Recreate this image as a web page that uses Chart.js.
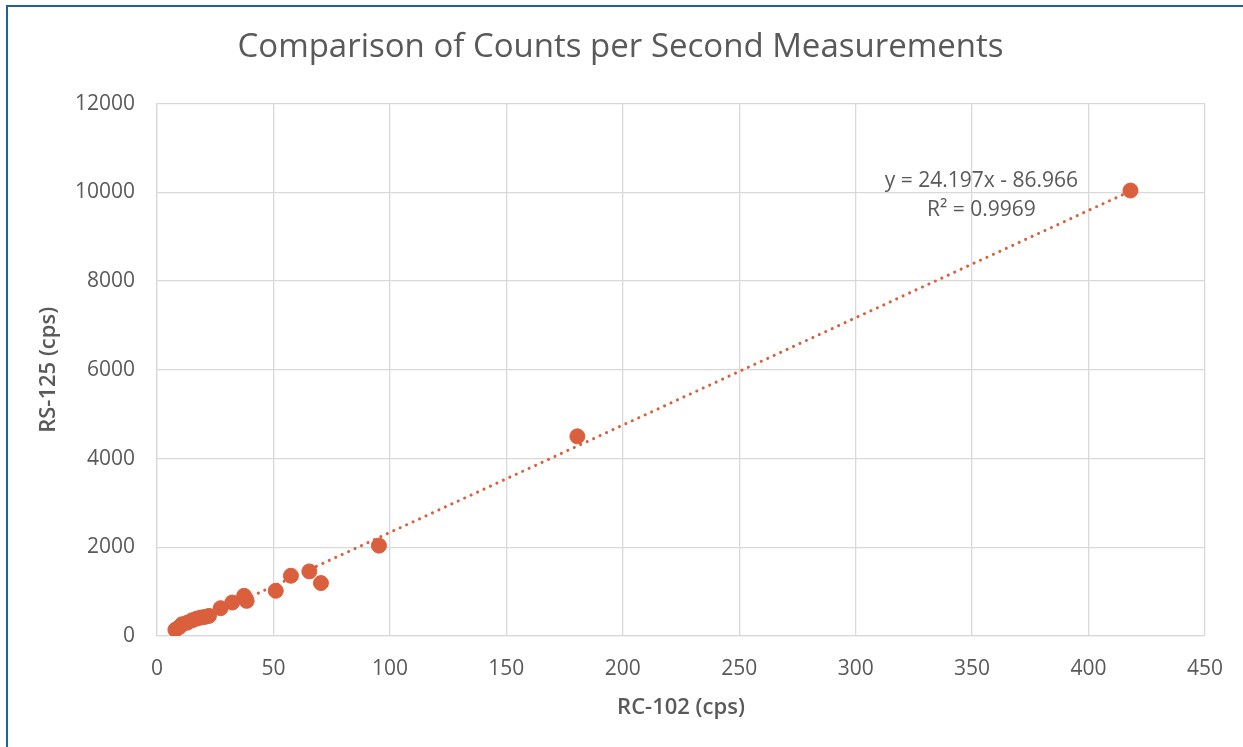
<!DOCTYPE html>
<html>
<head>
<meta charset="utf-8">
<script src="https://cdn.jsdelivr.net/npm/chart.js@4.4.1/dist/chart.umd.min.js"></script>
<style>
  html, body { margin: 0; padding: 0; background: #fff; }
  #frame {
    position: absolute; left: 6px; top: 5px; width: 1237px; height: 742px;
    border-left: 2px solid #1f6391; border-top: 2px solid #1f6391;
    box-sizing: border-box;
  }
  #wrap { position: absolute; left: 0; top: 0; width: 1243px; height: 747px; }
</style>
</head>
<body>
<div id="frame"></div>
<div id="wrap"><canvas id="cpsChart"></canvas></div>
<script>
const rc102 = [7.9, 9.5, 10.8, 13, 15.1, 17, 18.7, 20.5, 22.3, 27.3, 32.3, 37.4, 38.5, 51, 57.5, 65.4, 70.4, 95.3, 180.5, 418];
const rs125 = [140, 200, 265, 300, 355, 390, 415, 430, 453, 627, 754, 906, 792, 1019, 1358, 1456, 1193, 2037, 4500, 10040];

// trendline ends as drawn
const trendX = [7.5, 418];
const trendY = [95, 10028];

const xTicks = [0, 50, 100, 150, 200, 250, 300, 350, 400, 450];
const yTicks = [0, 2000, 4000, 6000, 8000, 10000, 12000];

const eqLines = ["y = 24.197x - 86.966", "R\u00b2 = 0.9969"];

const orange = '#da5f3d';
const grey = '#595959';
const fontFam = '"Open Sans", Lato, sans-serif';

// text of the trendline equation
const eqLabel = {
  id: 'eqLabel',
  afterDatasetsDraw(chart) {
    const { ctx, scales } = chart;
    const cx = scales.x.getPixelForValue(354);
    const y1 = scales.y.getPixelForValue(10256);
    ctx.save();
    ctx.font = '21px ' + fontFam;
    ctx.fillStyle = grey;
    ctx.textAlign = 'center';
    ctx.textBaseline = 'middle';
    ctx.fillText(eqLines[0], cx, y1);
    ctx.fillText(eqLines[1], cx, y1 + 29);
    ctx.restore();
  }
};

new Chart(document.getElementById('cpsChart'), {
  type: 'scatter',
  data: {
    datasets: [
      {
        label: 'trend',
        type: 'line',
        data: trendX.map((x, i) => ({ x: x, y: trendY[i] })),
        borderColor: orange,
        borderWidth: 3,
        borderDash: [0.1, 7],
        borderCapStyle: 'round',
        pointRadius: 0,
        fill: false
      },
      {
        label: 'cps',
        data: rc102.map((x, i) => ({ x: x, y: rs125[i] })),
        backgroundColor: orange,
        borderColor: orange,
        pointRadius: 7.5,
        pointHoverRadius: 7.5
      }
    ]
  },
  options: {
    responsive: true,
    maintainAspectRatio: false,
    animation: false,
    layout: { padding: { left: 32, right: 34, top: 14, bottom: 22 } },
    plugins: {
      legend: { display: false },
      tooltip: { enabled: false },
      title: {
        display: true,
        text: 'Comparison of Counts per Second Measurements',
        color: grey,
        font: { family: fontFam, size: 33, weight: 'normal' },
        padding: { top: 14, bottom: 36 }
      }
    },
    scales: {
      x: {
        type: 'linear',
        min: 0, max: 450,
        afterBuildTicks: s => { s.ticks = xTicks.map(v => ({ value: v })); },
        afterFit: s => { s.height = 89; },
        grid: { color: '#d9d9d9', lineWidth: 1.3, drawTicks: false },
        border: { color: '#d9d9d9', width: 1.3 },
        ticks: { color: grey, font: { family: fontFam, size: 21 }, padding: 20 },
        title: {
          display: true, text: 'RC-102 (cps)', color: grey,
          font: { family: fontFam, size: 22, weight: 600 }, padding: { top: 8 }
        }
      },
      y: {
        type: 'linear',
        min: 0, max: 12000,
        afterBuildTicks: s => { s.ticks = yTicks.map(v => ({ value: v })); },
        afterFit: s => { s.width = 125; },
        grid: { color: '#d9d9d9', lineWidth: 1.3, drawTicks: false },
        border: { color: '#d9d9d9', width: 1.3 },
        ticks: {
          color: grey, font: { family: fontFam, size: 21 }, padding: 22,
          callback: v => String(v)
        },
        title: {
          display: true, text: 'RS-125 (cps)', color: grey,
          font: { family: fontFam, size: 22, weight: 600 }, padding: { bottom: 14 }
        }
      }
    }
  },
  plugins: [eqLabel]
});
</script>
</body>
</html>
